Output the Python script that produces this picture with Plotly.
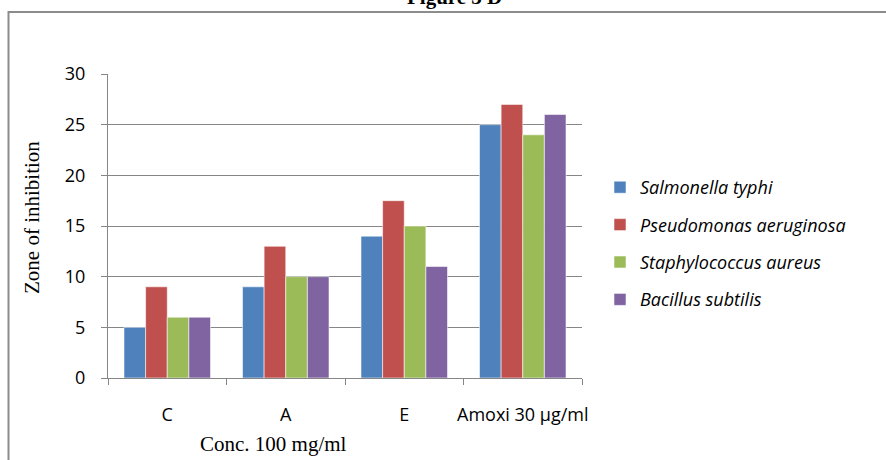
import plotly.graph_objects as go

categories = ["C", "A", "E", "Amoxi 30 µg/ml"]
series_names = ["Salmonella typhi", "Pseudomonas aeruginosa", "Staphylococcus aureus", "Bacillus subtilis"]
salmonella = [5, 9, 14, 25]
pseudomonas = [9, 13, 17.5, 27]
staphylococcus = [6, 10, 15, 24]
bacillus = [6, 10, 11, 26]
y_ticks = [0, 5, 10, 15, 20, 25, 30]

values = [salmonella, pseudomonas, staphylococcus, bacillus]
colors = ["#4F81BD", "#C0504D", "#9BBB59", "#8064A2"]

W, H = 886, 460
L, R, T, B = 108, 304, 74, 82
pw, ph = W - L - R, H - T - B

def px_x(x):
    return (x - L) / pw

def px_y(y):
    return (H - B - y) / ph

fig = go.Figure()
for name, vals, col in zip(series_names, values, colors):
    fig.add_trace(go.Bar(
        x=categories, y=vals, name=name, legendgroup=name,
        marker=dict(color=col, line=dict(color="rgba(255,255,255,0.55)", width=1)),
    ))

grid_col = "#868686"
fig.update_layout(
    width=W, height=H,
    margin=dict(l=L, r=R, t=T, b=B, pad=0, autoexpand=False),
    paper_bgcolor="white", plot_bgcolor="white",
    barmode="group", bargap=0.27, bargroupgap=0,
    showlegend=True,
    legend=dict(
        x=px_x(600), y=px_y(169), xanchor="left", yanchor="top",
        font=dict(family="Open Sans", size=18, color="black", style="italic"),
        traceorder="grouped", tracegroupgap=11,
        bgcolor="rgba(0,0,0,0)", borderwidth=0,
        itemclick=False,
    ),
    xaxis=dict(
        showgrid=False, showline=True, linecolor=grid_col, linewidth=1,
        ticks="outside", tickson="boundaries", ticklen=6, tickcolor=grid_col,
        tickfont=dict(family="Open Sans", size=18, color="black"),
        tickangle=0, automargin=False,
        ticklabelstandoff=20,
    ),
    yaxis=dict(
        range=[0, 30], tickvals=y_ticks, showgrid=True, gridcolor=grid_col, gridwidth=1,
        showline=True, linecolor=grid_col, linewidth=1,
        ticks="outside", ticklen=6, tickcolor=grid_col,
        tickfont=dict(family="Open Sans", size=18, color="black"),
        ticklabelstandoff=12, zeroline=False, automargin=False,
    ),
    shapes=[dict(
        type="rect", xref="paper", yref="paper",
        x0=px_x(8.5), x1=px_x(900), y0=px_y(475), y1=px_y(12),
        line=dict(color="#8c8c8c", width=2), fillcolor="rgba(0,0,0,0)", layer="below",
    )],
    annotations=[
        dict(text="<b>Figure 3 D</b>", xref="paper", yref="paper", x=px_x(454), y=px_y(-3),
             xanchor="center", yanchor="middle", showarrow=False,
             font=dict(family="Liberation Serif", size=21, color="black")),
        dict(text="Zone of inhibition", xref="paper", yref="paper", x=px_x(32), y=px_y(218),
             xanchor="center", yanchor="middle", textangle=-90, showarrow=False,
             font=dict(family="Liberation Serif", size=21, color="black")),
        dict(text="Conc. 100 mg/ml", xref="paper", yref="paper", x=px_x(273), y=px_y(444),
             xanchor="center", yanchor="middle", showarrow=False,
             font=dict(family="Liberation Serif", size=21, color="black")),
    ],
)

fig.write_html("out.html")
